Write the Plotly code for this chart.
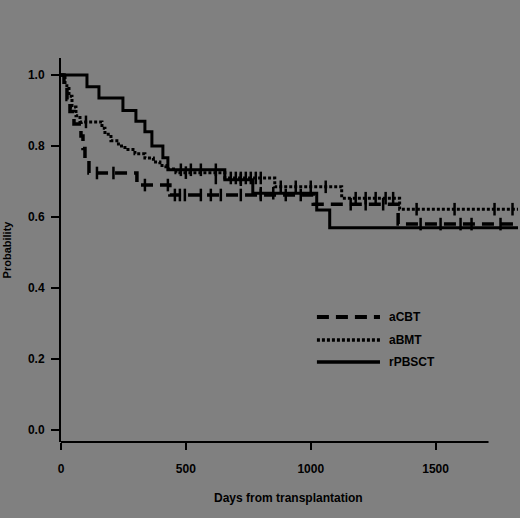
import plotly.graph_objects as go

# ---- data (Kaplan-Meier step curves) ----
acbt_t = [0, 12, 24, 36, 52, 80, 88, 96, 112, 304, 436, 1010, 1350, 1830]
acbt_s = [1.0, 0.966, 0.931, 0.897, 0.862, 0.828, 0.793, 0.759, 0.724, 0.69, 0.662, 0.636, 0.58, 0.58]
acbt_ct = [144, 210, 336, 428, 456, 476, 496, 560, 600, 640, 720, 800, 900, 960, 1160, 1220, 1290, 1440, 1520, 1600, 1644, 1760]
acbt_cs = [0.724, 0.724, 0.69, 0.69, 0.662, 0.662, 0.662, 0.662, 0.662, 0.662, 0.662, 0.662, 0.662, 0.662, 0.636, 0.636, 0.636, 0.58, 0.58, 0.58, 0.58, 0.58]

abmt_t = [0, 16, 32, 44, 60, 76, 164, 176, 200, 230, 256, 296, 336, 370, 396, 420, 460, 656, 856, 1124, 1356, 1830]
abmt_s = [1.0, 0.97, 0.94, 0.91, 0.885, 0.868, 0.85, 0.833, 0.815, 0.80, 0.79, 0.778, 0.766, 0.755, 0.745, 0.735, 0.725, 0.71, 0.685, 0.653, 0.622, 0.622]
abmt_ct = [100, 500, 620, 680, 700, 720, 740, 760, 780, 800, 880, 940, 1000, 1060, 1180, 1220, 1260, 1300, 1330, 1424, 1576, 1736, 1808]
abmt_cs = [0.868, 0.725, 0.71, 0.71, 0.71, 0.71, 0.71, 0.71, 0.71, 0.71, 0.685, 0.685, 0.685, 0.685, 0.653, 0.653, 0.653, 0.653, 0.653, 0.622, 0.622, 0.622, 0.622]

rpbsct_t = [0, 104, 152, 248, 300, 336, 364, 408, 428, 656, 768, 1024, 1076, 1830]
rpbsct_s = [1.0, 0.967, 0.935, 0.90, 0.87, 0.84, 0.80, 0.767, 0.733, 0.705, 0.667, 0.62, 0.57, 0.57]
rpbsct_ct = [480, 520, 560, 620, 720, 800, 850]
rpbsct_cs = [0.733, 0.733, 0.733, 0.733, 0.705, 0.667, 0.667]

groups = ["aCBT", "aBMT", "rPBSCT"]
x_ticks = [0, 500, 1000, 1500]
y_ticks = [0.0, 0.2, 0.4, 0.6, 0.8, 1.0]
y_ticktext = ["0.0", "0.2", "0.4", "0.6", "0.8", "1.0"]

BG = "#808080"
dashes = {"aCBT": "12px,7px", "aBMT": "3px,2px", "rPBSCT": "solid"}
widths = {"aCBT": 3.5, "aBMT": 3, "rPBSCT": 3}

fig = go.Figure()
series = [
    ("aCBT", acbt_t, acbt_s, acbt_ct, acbt_cs),
    ("aBMT", abmt_t, abmt_s, abmt_ct, abmt_cs),
    ("rPBSCT", rpbsct_t, rpbsct_s, rpbsct_ct, rpbsct_cs),
]
for name, t, s, ct, cs in series:
    fig.add_trace(go.Scatter(x=t, y=s, mode="lines", name=name,
                             line=dict(color="black", width=widths[name], dash=dashes[name], shape="hv"),
                             showlegend=False))
    fig.add_trace(go.Scatter(x=ct, y=cs, mode="markers", name=name + " censored",
                             marker=dict(symbol="line-ns-open", size=9, color="black",
                                         line=dict(color="black", width=2.5)),
                             showlegend=False))

font = dict(family="Liberation Sans, Arial, sans-serif", size=12, color="black", weight="bold")

fig.update_layout(
    width=520, height=518,
    margin=dict(l=61, r=2, t=58, b=76),
    paper_bgcolor=BG, plot_bgcolor=BG,
    font=font,
    xaxis=dict(range=[0, 1830], showgrid=False, zeroline=False, showline=False,
               tickvals=x_ticks, ticks="outside", ticklen=7, tickwidth=2, tickcolor="black",
               tickfont=font, ticklabelstandoff=9),
    yaxis=dict(range=[-0.034, 1.048], showgrid=False, zeroline=False, showline=True,
               linecolor="black", linewidth=2,
               tickvals=y_ticks, ticktext=y_ticktext, ticks="outside", ticklen=8, tickwidth=2,
               tickcolor="black", tickfont=font, ticklabelstandoff=4,
               title=dict(text="Probability", font=dict(family=font["family"], size=11, color="black", weight="bold"), standoff=14)),
)

# x axis line that stops short of the plotting area's right edge
fig.add_shape(type="line", xref="x", yref="paper", x0=0, x1=1712, y0=0, y1=0,
              line=dict(color="black", width=2))

# x axis title
fig.add_annotation(text="Days from transplantation", xref="paper", yref="paper",
                   x=0.497, y=-0.145, showarrow=False, xanchor="center", yanchor="middle",
                   font=dict(family=font["family"], size=12, color="black", weight="bold"))

# legend drawn inside the plot
leg_y = [0.3255, 0.2656, 0.2083]
for name, yy in zip(groups, leg_y):
    fig.add_shape(type="line", xref="paper", yref="paper", x0=0.560, x1=0.698, y0=yy, y1=yy,
                  line=dict(color="black", width=widths[name] + 0.5, dash=dashes[name]))
    fig.add_annotation(text=name, xref="paper", yref="paper", x=0.713, y=yy,
                       showarrow=False, xanchor="left", yanchor="middle",
                       font=dict(family=font["family"], size=12, color="black", weight="bold"))

fig.write_html("out.html", config={"displayModeBar": False},
               post_script="document.body.style.margin='0';document.body.style.background='#808080';")
